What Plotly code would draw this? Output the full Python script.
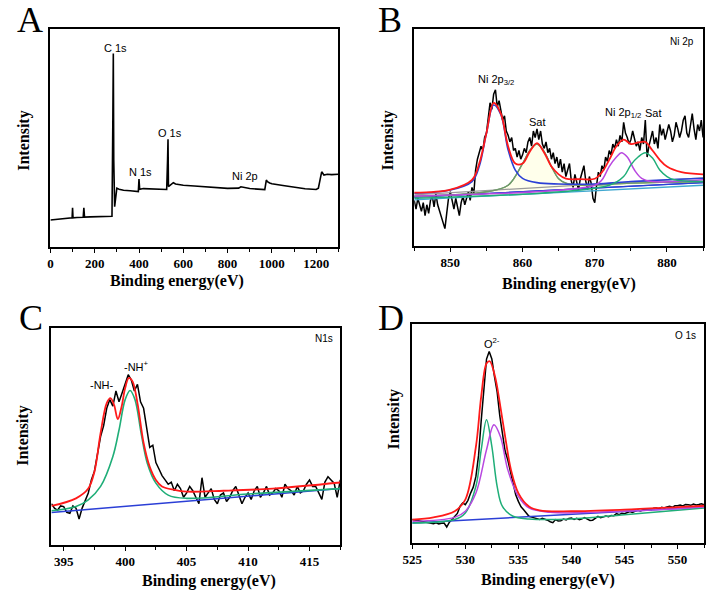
import plotly.graph_objects as go

W, H = 709, 593

# ---------------- Panel A: survey ----------------
a_x = [0, 20, 40, 60, 80, 98, 100, 102, 120, 148, 151, 154, 180, 220, 260, 278, 282, 284, 286, 290,
       294, 300, 310, 330, 360, 390, 397, 400, 403, 420, 460, 500, 525, 529, 531, 533, 540, 555, 565,
       600, 650, 700, 750, 800, 850, 860, 900, 950, 968, 975, 980, 990, 1000, 1050, 1100, 1150, 1200,
       1210, 1218, 1225, 1235, 1250, 1270, 1300]
a_y = [12.4, 12.6, 12.9, 13.0, 13.2, 13.4, 18.0, 13.4, 13.5, 13.6, 18.0, 13.7, 13.8, 13.9, 14.0, 14.1, 60, 88.8, 40, 18.5,
       22, 27, 26.5, 26.0, 25.8, 25.6, 25.4, 31.2, 26.5, 26.8, 26.6, 26.4, 26.4, 40, 49.4, 27.7, 28.2, 29.5, 28.9,
       28.3, 28.0, 27.6, 27.2, 26.9, 27.0, 27.6, 26.8, 26.5, 26.3, 30.7, 30.0, 29.4, 29.0, 28.2, 27.3, 26.7, 26.4,
       27.0, 31, 34.5, 33.0, 33.4, 33.2, 33.4]
a_ticks = [0, 200, 400, 600, 800, 1000, 1200]

# ---------------- Panel B: Ni 2p ----------------
b_start, b_step = 845.0, 0.25
b_y = [21, 17, 22, 19, 16, 20, 14, 19, 15, 21, 23, 18, 24, 19, 16, 14, 10, 8, 15, 22,
       25, 20, 17, 22, 18, 14, 20, 23, 19, 22, 25, 21, 27, 24, 35, 40, 43, 46, 44, 50,
       52, 60, 66, 63, 70, 72, 64, 67, 62, 58, 60, 53, 51, 48, 50, 44, 45, 41, 44, 40,
       42, 45, 43, 48, 50, 46, 53, 50, 54, 49, 53, 47, 45, 48, 43, 45, 40, 43, 38, 41,
       36, 40, 34, 38, 32, 35, 38, 30, 27, 33, 30, 26, 31, 34, 37, 30, 26, 32, 29, 22,
       20, 28, 34, 32, 37, 35, 41, 39, 44, 42, 47, 45, 49, 46, 51, 48, 57, 52, 50, 47,
       49, 53, 50, 46, 48, 44, 50, 47, 58, 41, 46, 50, 53, 47, 50, 45, 56, 51, 54, 49,
       52, 56, 53, 48, 51, 57, 54, 50, 53, 58, 60, 52, 50, 55, 61, 54, 49, 56, 53, 58, 50]
b_x = [b_start + b_step * i for i in range(len(b_y))]
b_ticks = [850, 860, 870, 880]

b_env_x = [845, 850, 853, 854, 855, 856, 857, 858, 859, 860, 861, 862, 863, 864, 865, 866, 868, 870,
           871, 872, 873, 874, 875, 876, 877, 878, 879, 880, 882, 885]
b_env_y = [24.6, 26, 30.5, 38, 52, 66, 61, 46, 38, 38, 43.5, 47.4, 43, 36.6, 33, 31, 30.8, 31,
           34, 39.7, 46, 49, 47, 47.7, 48, 44, 39.7, 36.6, 34, 33]
b_p1_x = [845, 850, 853, 854, 855, 856, 857, 858, 859, 860, 862, 865, 870, 875, 880, 885]
b_p1_y = [24.3, 25.8, 29.7, 36.6, 52, 65, 60.5, 44.3, 35, 31.2, 29.2, 28.6, 28.6, 29.7, 30.5, 31.2]
b_s1_x = [845, 855, 858, 860, 861, 862, 863, 864, 865, 866, 868, 875, 885]
b_s1_y = [22.8, 25, 28, 38, 44, 47, 43.5, 36.6, 31, 29, 28, 29, 29.7]
b_p2_x = [845, 870, 871, 872, 873, 873.7, 874.5, 875.5, 876.5, 878, 885]
b_p2_y = [23, 28, 30.5, 36.6, 41, 43, 41, 35, 31.2, 29.7, 30.5]
b_s2_x = [845, 872, 874, 875, 876, 877, 878, 879, 880, 881, 885]
b_s2_y = [22, 28, 32, 37.4, 41, 43, 40.5, 35, 32, 30.5, 29.7]
b_bl_x = [845, 885]
b_bl1_y = [22.5, 29.2]
b_bl2_y = [21.3, 28.0]
b_bl3_y = [23.6, 31.4]

# ---------------- Panel C: N 1s ----------------
c_start, c_step = 394.0, 0.25
c_y = [19, 17, 16, 18, 17.7, 15, 14.6, 18, 17, 12, 17, 21, 24, 30, 34, 42, 50, 55, 63, 67,
       64, 71, 66, 70, 74, 78.5, 76, 71, 74, 66, 63, 55, 45, 46, 38, 35, 32, 30, 28, 29,
       25, 28, 26, 22, 24, 27, 25, 22, 19, 31, 22, 24, 26, 21, 19, 23, 24, 20, 22, 25,
       27, 23, 19, 22, 24, 21, 25, 27, 22, 24, 27, 23, 24, 26, 25, 22, 28, 26, 25, 23,
       27, 24, 25, 28, 30, 27, 27, 24, 21, 29, 31.5, 30, 28.5, 22, 30]
c_x = [c_start + c_step * i for i in range(len(c_y))]
c_ticks = [395, 400, 405, 410, 415]

c_env_x = [394, 396, 397, 397.5, 398, 398.5, 398.8, 399.1, 399.4, 399.7, 400, 400.3, 400.6, 401,
           401.5, 402, 402.5, 403, 404, 405, 408, 412, 417.5]
c_env_y = [18, 21.5, 26, 33.8, 51.5, 65.4, 67.7, 64.5, 58, 63.5, 72.3, 77, 75.4, 65.4,
           47, 36, 30, 27, 25.4, 24.6, 25, 26, 28.8]
c_p_x = [394, 396, 397, 398, 399, 399.5, 400, 400.4, 400.8, 401.3, 401.8, 402.5, 403.5, 405, 410, 417.5]
c_p_y = [15.8, 17.7, 20.8, 27, 40.8, 53, 67, 71.2, 67, 51.5, 37.7, 28.5, 23, 21.5, 23.5, 26]
c_bl_x = [394, 417.5]
c_bl_y = [15, 26]

# ---------------- Panel D: O 1s ----------------
d_start, d_step = 525.0, 0.25
d_y = [10.7, 10.5, 10.2, 10.0, 9.9, 9.6, 9.4, 9.0, 8.8, 9.2, 8.7, 9.0, 9.1, 7.3, 9.5, 10.7, 12.2, 13.5, 16.7, 18.3,
       17.5, 19.5, 22.8, 25.5, 30.4, 40, 56, 72, 84, 87.5, 84, 76, 69, 58, 48.7, 42, 38, 33, 28, 22,
       19, 16.5, 15.2, 13.5, 12.2, 11.8, 11.4, 10.8, 10.7, 11.3, 11, 10.4, 9.7, 9.3, 10.7, 10.1, 10.2, 10.9, 10.5, 11.2,
       11.4, 10.8, 11.3, 10.6, 11, 11.6, 10.9, 10.3, 10.4, 11.5, 12.2, 11.6, 11.9, 12.3, 12.0, 12.6, 12.5, 13.4, 12.9, 13.6,
       13.4, 13.9, 14.4, 14.0, 14.5, 15.0, 14.6, 15.2, 15.2, 15.5, 15.1, 15.9, 16.0, 15.6, 16.3, 16.0, 16.4, 16.8, 16.3, 17.0,
       17.0, 17.3, 16.9, 17.6, 17.5, 17.2, 17.8, 17.4, 17.6, 17.9, 17.5]
d_x = [d_start + d_step * i for i in range(len(d_y))]
d_ticks = [525, 530, 535, 540, 545, 550]

d_env_x = [525, 527, 529, 530, 531, 531.5, 532, 532.3, 532.8, 533.3, 533.8, 534.3, 535, 536, 537, 540, 545, 550, 552.5]
d_env_y = [10.7, 11.7, 14.5, 19.8, 44, 67, 82, 83, 76, 62.4, 47.2, 33.5, 22.8, 16.7, 14.9, 14.5, 15.2, 16.4, 17]
d_g_x = [525, 529, 530, 531, 531.5, 532, 532.5, 533, 533.5, 534.5, 536, 540, 545, 552.5]
d_g_y = [9.1, 10.7, 13.7, 25.9, 42.6, 56.3, 44.1, 25.9, 16.7, 12.2, 11, 11, 12.9, 16]
d_m_x = [525, 529, 530, 531, 532, 532.7, 533.3, 534, 535, 536, 538, 545, 552.5]
d_m_y = [9.9, 11.7, 14.5, 22.8, 42.6, 54, 48.7, 33.5, 21.3, 16, 14, 14.5, 16.4]
d_bl_x = [525, 552.5]
d_bl_y = [9.1, 16.4]

RED = "#ff1a1a"
GREEN = "#1fae78"
BLUE = "#2b3fd6"
MAG = "#b848e0"
BLACK = "#000000"

fig = go.Figure()


def add(x, y, color, ax, width=1.5, shape="linear", **kw):
    fig.add_trace(go.Scatter(x=x, y=y, mode="lines", xaxis="x" + ax, yaxis="y" + ax,
                             line=dict(color=color, width=width, shape=shape), showlegend=False,
                             hoverinfo="skip", **kw))


# A
add(a_x, a_y, BLACK, "", 1.6)
# B
add(b_bl_x, b_bl1_y, BLUE, "2", 1.3)
add(b_s1_x, b_s1_y, "#6f9a6a", "2", 1.3, "spline", fill="tonexty", fillcolor="rgba(255,255,190,0.3)")
add(b_x, b_y, BLACK, "2", 1.5)
add(b_bl_x, b_bl3_y, "#9a9a9a", "2", 1.3)
add(b_bl_x, b_bl2_y, "#40a8d0", "2", 1.3)
add(b_bl_x, b_bl1_y, BLUE, "2", 1.3)
add(b_s1_x, b_s1_y, "#6f9a6a", "2", 1.3, "spline")
add(b_p1_x, b_p1_y, BLUE, "2", 1.6, "spline")
add(b_p2_x, b_p2_y, MAG, "2", 1.5, "spline")
add(b_s2_x, b_s2_y, GREEN, "2", 1.5, "spline")
add(b_env_x, b_env_y, RED, "2", 1.8, "spline")
# C
add(c_x, c_y, BLACK, "3", 1.5)
add(c_bl_x, c_bl_y, BLUE, "3", 1.5)
add(c_p_x, c_p_y, GREEN, "3", 1.6, "spline")
add(c_env_x, c_env_y, RED, "3", 1.8, "spline")
# D
add(d_x, d_y, BLACK, "4", 1.5)
add(d_bl_x, d_bl_y, BLUE, "4", 1.5)
add(d_g_x, d_g_y, GREEN, "4", 1.5, "spline")
add(d_m_x, d_m_y, MAG, "4", 1.5, "spline")
add(d_env_x, d_env_y, RED, "4", 1.8, "spline")

tickfont = dict(family="Liberation Serif", size=13, color="black")


def xax(l, r, rng, ticks, minor):
    return dict(domain=[l / W, r / W], range=rng, showgrid=False, zeroline=False,
                showline=True, linecolor="black", linewidth=1.5, mirror=True,
                ticks="outside", ticklen=4, tickwidth=1.3, tickcolor="black",
                tickmode="array", tickvals=ticks, ticktext=["<b>%g</b>" % t for t in ticks],
                minor=dict(ticks="outside", ticklen=3, tickwidth=1.2, tickcolor="black",
                           dtick=minor, tick0=ticks[0]),
                tickfont=tickfont, fixedrange=True)


def yax(top, bot):
    return dict(domain=[1 - bot / H, 1 - top / H], range=[0, 100], showgrid=False, zeroline=False,
                showline=True, linecolor="black", linewidth=1.5, mirror=True,
                showticklabels=False, ticks="", fixedrange=True)


lay = dict(width=W, height=H, margin=dict(l=0, r=0, t=0, b=0), paper_bgcolor="white",
           plot_bgcolor="white")
xa = xax(41, 333, [0, 1300], a_ticks, 100); xa["anchor"] = "y"
xb = xax(410, 703, [845, 885], b_ticks, 5); xb["anchor"] = "y2"
xc = xax(42, 335, [394, 417.5], c_ticks, 2.5); xc["anchor"] = "y3"
xd = xax(408, 704, [525, 552.5], d_ticks, 2.5); xd["anchor"] = "y4"
ya = yax(29, 247); ya["anchor"] = "x"
yb = yax(29, 246); yb["anchor"] = "x2"
yc = yax(328, 545); yc["anchor"] = "x3"
yd = yax(324, 543); yd["anchor"] = "x4"
lay.update(xaxis=xa, xaxis2=xb, xaxis3=xc, xaxis4=xd, yaxis=ya, yaxis2=yb, yaxis3=yc, yaxis4=yd)
fig.update_layout(**lay)

ann = []


def txt(x, y, s, size=11, family="Liberation Sans", angle=0):
    ann.append(dict(x=x / W, y=1 - y / H, xref="paper", yref="paper", text=s, showarrow=False,
                    xanchor="center", yanchor="middle", textangle=angle,
                    font=dict(family=family, size=size, color="black")))


# panel letters
for (px, py, s) in [(20, 20, "A"), (385, 20, "B"), (21, 318, "C"), (386, 318, "D")]:
    txt(px, py, s, size=36, family="Liberation Serif")
# axis titles
for (px, py) in [(169, 281), (567, 284), (202, 581), (546, 580)]:
    txt(px, py, "<b>Binding energy(eV)</b>", size=16, family="Liberation Serif")
for (px, py) in [(14, 141), (383, 141), (13, 436), (390, 419)]:
    txt(px, py, "<b>Intensity</b>", size=16, family="Liberation Serif", angle=-90)
# labels A
txt(107, 48, "C 1s")
txt(132, 172, "N 1s")
txt(162, 133, "O 1s")
txt(238, 176, "Ni 2p")
# labels B
txt(682, 42, "Ni 2p", size=10)
txt(493, 80, "Ni 2p<sub>3/2</sub>")
txt(535, 122, "Sat")
txt(622, 113, "Ni 2p<sub>1/2</sub>")
txt(653, 113, "Sat")
# labels C
txt(318, 338, "N1s", size=10)
txt(93, 385, "-NH-")
txt(128, 366, "-NH<sup>+</sup>")
# labels D
txt(685, 335, "O 1s", size=10)
txt(489, 343, "O<sup>2-</sup>")

fig.update_layout(annotations=ann)
fig.write_html("out.html", config={"displayModeBar": False},
               post_script="document.body.style.margin='0';document.body.style.padding='0';")
